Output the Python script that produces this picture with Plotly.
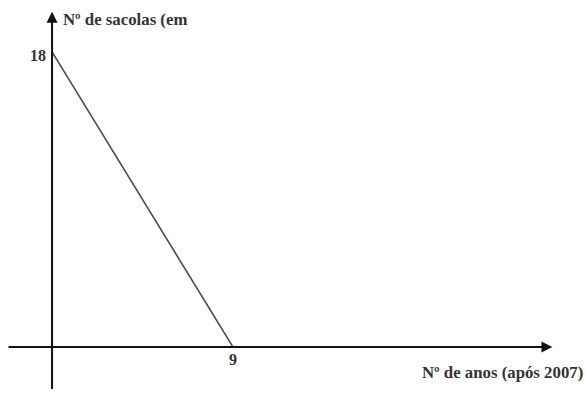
import plotly.graph_objects as go

# data
x_vals = [0, 9]
y_vals = [18, 0]
x_tick_labels = ["9"]
y_tick_labels = ["18"]
x_title = "Nº de anos (após 2007)"
y_title = "Nº de sacolas (em"

FONT = "Liberation Serif"
TXT = "#333333"

fig = go.Figure()
fig.add_trace(go.Scatter(x=x_vals, y=y_vals, mode="lines",
                         line=dict(color="#4a4a4a", width=1.6), hoverinfo="skip"))

# axes with arrows
fig.add_annotation(x=24.9, y=0, ax=-2.24, ay=0, xref="x", yref="y", axref="x", ayref="y",
                   text="", showarrow=True, arrowhead=2, arrowsize=1.1, arrowwidth=2, arrowcolor="#111111")
fig.add_annotation(x=0, y=20.45, ax=0, ay=-2.65, xref="x", yref="y", axref="x", ayref="y",
                   text="", showarrow=True, arrowhead=2, arrowsize=1.1, arrowwidth=2, arrowcolor="#111111")

# tick labels
fig.add_annotation(x=x_vals[1], y=0, text="<b>" + x_tick_labels[0] + "</b>", showarrow=False,
                   xanchor="center", yanchor="top", yshift=-2, font=dict(family=FONT, size=16, color=TXT))
fig.add_annotation(x=0, y=y_vals[0], text="<b>" + y_tick_labels[0] + "</b>", showarrow=False,
                   xanchor="right", yanchor="middle", xshift=-4, yshift=-4, font=dict(family=FONT, size=16, color=TXT))

# axis titles
fig.add_annotation(x=26.5, y=-1.55, text="<b>" + x_title + "</b>", showarrow=False,
                   xanchor="right", yanchor="middle", font=dict(family=FONT, size=16.8, color=TXT))
fig.add_annotation(x=0.45, y=19.95, text="<b>" + y_title + "</b>", showarrow=False,
                   xanchor="left", yanchor="middle", font=dict(family=FONT, size=16.8, color=TXT))

fig.update_layout(
    width=585, height=394, margin=dict(l=0, r=0, t=0, b=0),
    paper_bgcolor="white", plot_bgcolor="white", showlegend=False,
    xaxis=dict(range=[-2.59, 26.52], visible=False, fixedrange=True),
    yaxis=dict(range=[-2.87, 21.16], visible=False, fixedrange=True),
)
fig.write_html("out.html", config={"displayModeBar": False},
               post_script="document.body.style.margin='0';")
